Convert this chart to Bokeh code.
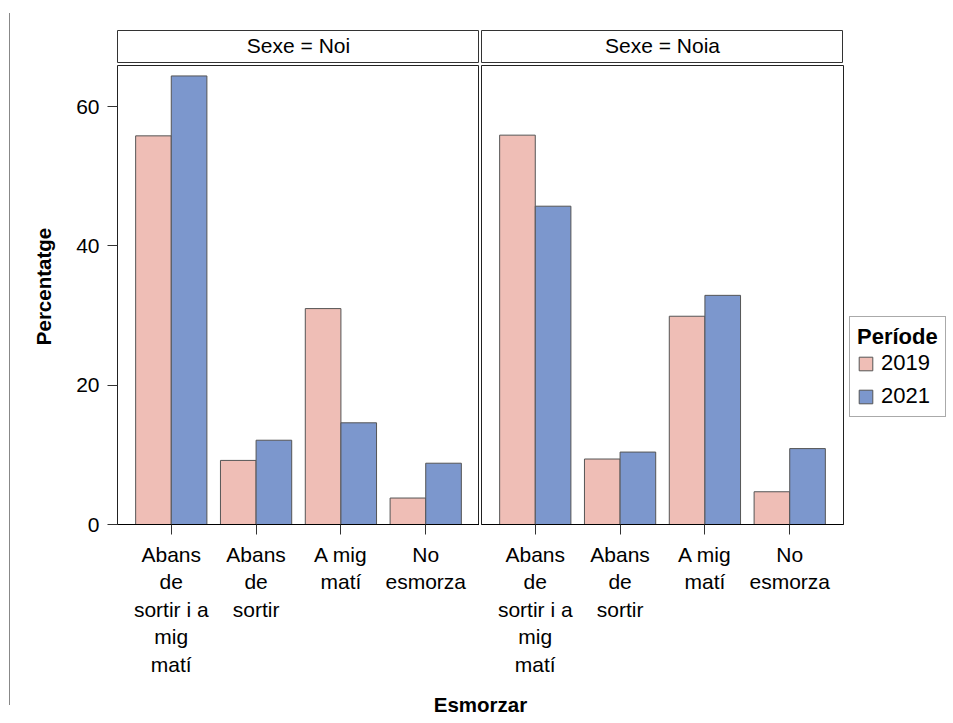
import math
from bokeh.plotting import figure
from bokeh.models import (Range1d, FactorRange, Label, Legend, LegendItem,
                          ColumnDataSource, FixedTicker, Div)
from bokeh.layouts import row, column
from bokeh.transform import dodge
from bokeh.embed import file_html
from bokeh.resources import INLINE

# ---- data ----
categories = ["Abans de sortir i a mig matí", "Abans de sortir", "A mig matí", "No esmorza"]
tick_labels = ["Abans\nde\nsortir i a\nmig\nmatí", "Abans\nde\nsortir", "A mig\nmatí", "No\nesmorza"]
panel_titles = ["Sexe = Noi", "Sexe = Noia"]
years = ["2019", "2021"]
noi_2019 = [55.8, 9.2, 31.0, 3.8]
noi_2021 = [64.4, 12.1, 14.6, 8.8]
noia_2019 = [55.9, 9.4, 29.9, 4.7]
noia_2021 = [45.7, 10.4, 32.9, 10.9]
y_ticks = [0, 20, 40, 60]
y_max = 65.9

FONT = "Liberation Sans"
C2019 = "#EFBEB6"
C2021 = "#7C97CD"
EDGE = "#555555"
FW = 362
FH = 459
YT_W = 50          # width of the strip holding the y-axis title
LEFT = 107 - YT_W  # border left of first panel frame
PAD = 0.067


def strip(title, left):
    s = figure(x_range=Range1d(0, 1), y_range=Range1d(0, 1),
               frame_width=FW, frame_height=33,
               min_border_left=left, min_border_right=0,
               min_border_top=30, min_border_bottom=0,
               x_axis_location=None, y_axis_location=None,
               toolbar_location=None, output_backend="svg",
               outline_line_color="#333333", border_fill_color="white")
    s.xgrid.grid_line_color = None
    s.ygrid.grid_line_color = None
    s.add_layout(Label(x=0.5, y=0.55, text=title, text_align="center",
                       text_baseline="middle", text_font=FONT,
                       text_font_size="21px", text_color="black"))
    return s


def panel(v2019, v2021, first):
    src = ColumnDataSource(dict(cat=tick_labels, cat_full=categories,
                                y2019=v2019, y2021=v2021))
    p = figure(x_range=FactorRange(factors=tick_labels, range_padding=PAD),
               y_range=Range1d(0, y_max),
               frame_width=FW, frame_height=FH,
               min_border_left=LEFT if first else 2,
               min_border_right=0 if first else 104,
               min_border_top=2, min_border_bottom=150,
               y_axis_location="left" if first else None,
               toolbar_location=None, output_backend="svg",
               outline_line_color="#222222", border_fill_color="white")
    p.xgrid.grid_line_color = None
    p.ygrid.grid_line_color = None
    r1 = p.vbar(x=dodge("cat", -0.21, range=p.x_range), top="y2019", width=0.42,
                source=src, fill_color=C2019, line_color=EDGE, line_width=1)
    r2 = p.vbar(x=dodge("cat", 0.21, range=p.x_range), top="y2021", width=0.42,
                source=src, fill_color=C2021, line_color=EDGE, line_width=1)
    xa = p.xaxis[0]
    xa.axis_line_color = "black"
    xa.major_tick_in = 0
    xa.major_tick_out = 10
    xa.major_tick_line_color = "#333333"
    xa.major_label_standoff = 8
    xa.major_label_text_font = FONT
    xa.major_label_text_font_size = "21px"
    xa.major_label_text_color = "black"
    if first:
        ya = p.yaxis[0]
        ya.ticker = FixedTicker(ticks=y_ticks)
        ya.axis_line_color = None
        ya.major_tick_in = 0
        ya.major_tick_out = 10
        ya.major_tick_line_color = "#333333"
        ya.minor_tick_line_color = None
        ya.major_label_standoff = 8
        ya.major_label_text_font = FONT
        ya.major_label_text_font_size = "21px"
        ya.major_label_text_color = "black"
    return p, r1, r2


s1 = strip(panel_titles[0], LEFT)
s2 = strip(panel_titles[1], 2)
p1, _, _ = panel(noi_2019, noi_2021, True)
p2, r1, r2 = panel(noia_2019, noia_2021, False)

legend = Legend(items=[LegendItem(label=years[0], renderers=[r1]),
                       LegendItem(label=years[1], renderers=[r2])],
                title="Període", location=(6, 107), margin=0,
                padding=7, spacing=7, title_standoff=0,
                glyph_width=17, glyph_height=17, label_standoff=7,
                label_height=24,
                label_text_font=FONT, label_text_font_size="22px",
                label_text_color="black",
                title_text_font=FONT, title_text_font_size="22px",
                title_text_font_style="bold", title_text_color="black",
                border_line_color="#555555", background_fill_color="white",
                background_fill_alpha=1.0)
p2.add_layout(legend, "right")

# x-axis title, centred under both panels
xt = figure(x_range=Range1d(0, 1), y_range=Range1d(0, 1),
            frame_width=2 * FW + 2, frame_height=44,
            min_border_left=LEFT, min_border_right=0,
            min_border_top=0, min_border_bottom=0,
            x_axis_location=None, y_axis_location=None,
            toolbar_location=None, output_backend="svg",
            outline_line_color=None, border_fill_color="white")
xt.xgrid.grid_line_color = None
xt.ygrid.grid_line_color = None
xt.add_layout(Label(x=0.5, y=0.42, text="Esmorzar", text_align="center",
                    text_baseline="middle", text_font=FONT,
                    text_font_size="20.5px", text_font_style="bold",
                    text_color="black"))

# y-axis title strip (data coords = page pixels)
yt = figure(x_range=Range1d(0, YT_W), y_range=Range1d(700, 0),
            frame_width=YT_W, frame_height=700,
            min_border_left=0, min_border_right=0,
            min_border_top=0, min_border_bottom=0,
            x_axis_location=None, y_axis_location=None,
            toolbar_location=None, output_backend="svg",
            outline_line_color=None, border_fill_color="white")
yt.xgrid.grid_line_color = None
yt.ygrid.grid_line_color = None
yt.add_layout(Label(x=33, y=286, text="Percentatge", angle=math.pi / 2,
                    text_align="center", text_baseline="middle",
                    text_font=FONT, text_font_size="20.5px",
                    text_font_style="bold", text_color="black"))

line = Div(text="", width=1, height=692, margin=(13, 0, 0, 9),
           styles={"background-color": "#888888"})

layout = row(line, yt,
             column(row(column(s1, p1), column(s2, p2)), xt))

open("out.html", "w").write(file_html(layout, INLINE))
